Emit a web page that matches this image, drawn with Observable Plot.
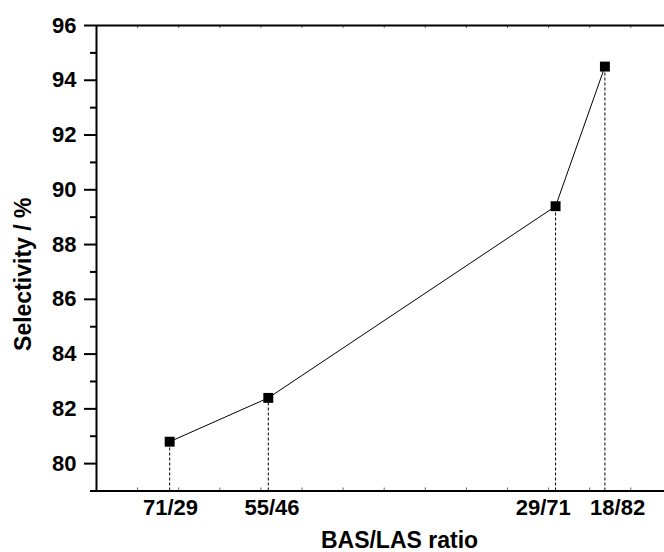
<!DOCTYPE html>
<html>
<head>
<meta charset="utf-8">
<script src="https://cdn.jsdelivr.net/npm/d3@7"></script>
<script src="https://cdn.jsdelivr.net/npm/@observablehq/plot@0.6"></script>
<style>
  html, body { margin: 0; padding: 0; background: #fff; }
  #chart svg { display: block; }
  #chart svg, #chart svg text { font-family: "Liberation Sans", Arial, Helvetica, sans-serif !important; font-weight: bold; }
</style>
</head>
<body>
<div id="chart"></div>
<script>
// Data
const ratios = ["71/29", "55/46", "29/71", "18/82"];
const xPos = [1.78, 4.18, 11.17, 12.37];          // position along the BAS/LAS axis (arbitrary units)
const selectivity = [80.8, 82.4, 89.4, 94.5];
const labelPos = [1.80, 4.27, 10.87, 12.68];      // where the category labels sit
const yMajor = [80, 82, 84, 86, 88, 90, 92, 94, 96];
const yMinor = [79, 81, 83, 85, 87, 89, 91, 93, 95];
const xMinor = [1, 2, 3, 4, 5, 6, 7, 8, 9, 10, 11, 12, 13];
const yDomain = [79, 96];
const xDomain = [0, 13.82];

const data = ratios.map((r, i) => ({ ratio: r, x: xPos[i], y: selectivity[i] }));
const font = "Liberation Sans, Arial, Helvetica, sans-serif";
const tick = 3 / 27.4; // inner minor tick length in y units

const chart = Plot.plot({
  width: 664,
  height: 552,
  marginLeft: 96,
  marginRight: 0,
  marginTop: 25,
  marginBottom: 61.5,
  style: { fontFamily: font, fontWeight: "bold", color: "#000", background: "#fff" },
  x: { domain: xDomain },
  y: { domain: yDomain },
  marks: [
    // frame lines
    Plot.ruleX([xDomain[0]], { stroke: "#000", strokeWidth: 2 }),
    Plot.ruleY([yDomain[0]], { stroke: "#000", strokeWidth: 2 }),
    Plot.ruleY([yDomain[1]], { stroke: "#000", strokeWidth: 2 }),
    // y axis: major ticks with labels, minor ticks
    Plot.axisY({
      ticks: yMajor, tickSize: 12, tickPadding: 8, strokeWidth: 2,
      fontSize: 22, fontWeight: "bold", fontFamily: font, label: null, tickFormat: d => String(d)
    }),
    Plot.axisY({ ticks: yMinor, tickSize: 6, strokeWidth: 2, text: null, label: null }),
    // x minor inner ticks on bottom and top
    Plot.ruleX(xMinor, { x: d => d, y1: yDomain[0], y2: yDomain[0] + tick, stroke: "#000", strokeWidth: 1, strokeOpacity: 0.6 }),
    Plot.ruleX(xMinor, { x: d => d, y1: yDomain[1] - tick, y2: yDomain[1], stroke: "#000", strokeWidth: 1, strokeOpacity: 0.6 }),
    // x category labels
    Plot.axisX({
      ticks: labelPos, tickSize: 0, tickPadding: 8.5,
      tickFormat: d => ratios[labelPos.indexOf(d)],
      fontSize: 22, fontWeight: "bold", fontFamily: font, label: null
    }),
    // dashed drop lines
    Plot.ruleX(data, { x: "x", y1: yDomain[0], y2: "y", stroke: "#000", strokeWidth: 1, strokeDasharray: "3,2" }),
    // series line and markers
    Plot.line(data, { x: "x", y: "y", stroke: "#000", strokeWidth: 1 }),
    Plot.dot(data, { x: "x", y: "y", symbol: "square", r: 5.6, fill: "#000", stroke: "none" }),
    // axis titles
    Plot.text(["BAS/LAS ratio"], {
      frameAnchor: "bottom", lineAnchor: "top", textAnchor: "middle", dx: 19, dy: 41,
      fontSize: 23, fontWeight: "bold", fontFamily: font, fill: "#000"
    }),
    Plot.text(["Selectivity / %"], {
      frameAnchor: "left", textAnchor: "middle", rotate: -90, dx: -73, dy: 16,
      fontSize: 23, fontWeight: "bold", fontFamily: font, fill: "#000"
    })
  ]
});

document.getElementById("chart").appendChild(chart);
</script>
</body>
</html>
